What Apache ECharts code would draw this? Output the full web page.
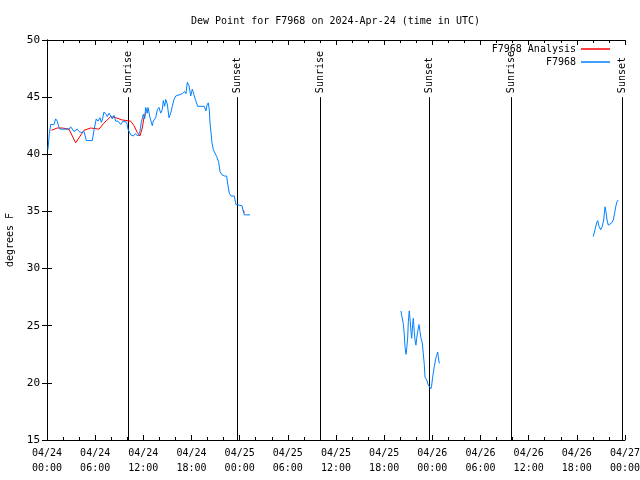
<!DOCTYPE html>
<html><head><meta charset="utf-8">
<script src="https://cdn.jsdelivr.net/npm/echarts@6/dist/echarts.min.js"></script>
<style>html,body{margin:0;padding:0;background:#fff}#c{width:640px;height:480px}</style>
</head><body><div id="c"></div>
<script>
// Observed dew point (hours since 2024-04-24 00:00 UTC); null = gap
const obsHours = [0.12,0.29,0.46,0.66,0.87,1.08,1.28,1.46,1.62,2.24,2.74,2.95,3.15,3.36,3.57,3.77,3.99,4.27,4.61,4.9,5.64,5.85,6.14,6.35,6.6,6.76,6.89,7.1,7.35,7.51,7.72,8.13,8.35,8.56,8.84,9.18,9.47,9.93,10.09,10.43,10.75,11.0,11.34,11.58,11.75,12.0,12.17,12.29,12.49,12.58,12.83,13.12,13.24,13.54,13.74,13.95,14.16,14.36,14.49,14.66,14.79,14.98,15.2,15.41,15.61,15.82,16.03,16.44,16.85,17.15,17.31,17.48,17.69,17.9,18.1,18.31,18.52,18.77,19.59,19.8,19.93,20.09,20.22,20.3,20.43,20.55,20.72,20.96,21.14,21.39,21.55,21.8,22.09,22.38,22.51,22.71,22.92,23.33,23.54,23.75,24.29,24.45,24.58,25.29,
  30,
  44.1,44.18,44.38,44.51,44.59,44.72,44.81,44.93,45.01,45.13,45.22,45.34,45.43,45.55,45.63,45.75,45.84,45.96,46.05,46.18,46.34,46.46,46.59,46.75,46.87,47.0,47.09,47.3,47.5,47.71,47.83,47.92,48.04,48.24,48.42,48.54,48.67,48.74,48.87,
  60,
  68.05,68.26,68.47,68.6,68.76,68.97,69.17,69.34,69.51,69.63,69.76,69.92,70.13,70.34,70.54,70.67,70.84,71.0,71.16];
const obsValues = [40.4,41.8,42.6,42.7,42.6,43.1,42.9,42.4,42.2,42.2,42.2,42.4,42.3,42.0,42.1,42.2,42.0,41.9,42.0,41.2,41.2,42.1,43.1,42.9,43.2,42.8,43.0,43.7,43.5,43.3,43.6,43.1,43.4,42.9,42.9,42.6,42.9,42.8,42.2,41.7,41.6,41.8,41.6,42.0,42.8,43.5,43.1,44.1,43.6,44.1,43.2,42.5,42.9,43.2,43.9,44.1,43.6,43.9,44.7,44.2,44.8,44.4,43.2,43.6,44.2,44.8,45.1,45.2,45.3,45.5,45.3,46.3,46.0,45.1,45.7,45.2,44.7,44.2,44.2,43.8,44.3,44.5,43.9,42.8,41.9,41.0,40.4,40.3,39.8,39.3,38.5,38.2,38.1,38.1,37.4,36.6,36.35,36.35,35.6,35.5,35.5,35.0,34.7,34.7,
  null,
  26.3,25.9,25.2,24.2,23.2,22.5,23.0,24.0,25.35,26.3,25.6,24.5,23.9,25.1,25.65,24.5,23.75,23.3,23.9,24.5,25.1,24.5,23.9,23.5,22.6,21.6,20.5,20.25,19.8,19.7,19.5,19.8,20.5,21.4,22.1,22.4,22.7,22.3,21.7,
  null,
  32.8,33.4,34.0,34.2,33.7,33.4,33.7,34.25,35.4,35.0,34.25,33.8,33.7,34.0,34.25,34.7,35.4,35.85,36.0];
// Analysis
const anaHours = [0.54,1.28,1.9,2.74,3.57,4.61,5.44,6.48,7.05,7.93,8.56,9.38,10.43,10.84,11.25,11.58,11.87,12.08,12.33, 18, 24.46,24.6];
const anaValues = [42.1,42.3,42.3,42.2,41.0,42.1,42.3,42.2,42.7,43.3,43.2,43.0,42.9,42.5,41.9,41.6,42.3,43.2,43.7, null, 35.1,34.9];
// Sunrise / sunset markers
const eventHours = [10.09, 23.67, 34.0, 47.6, 57.8, 71.62];
const eventNames = ['Sunrise','Sunset','Sunrise','Sunset','Sunrise','Sunset'];
const xTickLabels = ['04/24\n00:00','04/24\n06:00','04/24\n12:00','04/24\n18:00','04/25\n00:00','04/25\n06:00','04/25\n12:00','04/25\n18:00','04/26\n00:00','04/26\n06:00','04/26\n12:00','04/26\n18:00','04/27\n00:00'];
const seriesNames = ['F7968 Analysis','F7968'];

const FONT = 'DejaVu Sans Mono';
const pairs = (h, v) => h.map((x, i) => [x, v[i] === null ? '-' : v[i]]);

const chart = echarts.init(document.getElementById('c'), null, {renderer: 'canvas'});
const axisCommon = {
  axisLine: {show: true, lineStyle: {color: '#000', width: 1}},
  splitLine: {show: false}
};
const legendCommon = {right: 30, align: 'right', orient: 'vertical', icon: 'rect', padding: 0,
  itemWidth: 29, itemHeight: 1.5, itemGap: 2, textStyle: {fontFamily: FONT, fontSize: 10, color: '#000'}};
chart.setOption({
  animation: false,
  backgroundColor: '#fff',
  title: {text: 'Dew Point for F7968 on 2024-Apr-24 (time in UTC)', left: 186, top: 11,
    textStyle: {fontFamily: FONT, fontSize: 10, fontWeight: 'normal', color: '#000'}},
  legend: [
    Object.assign({data: [seriesNames[0]], top: 44}, legendCommon, {right: 30}),
    Object.assign({data: [seriesNames[1]], top: 57}, legendCommon)
  ],
  grid: {left: 47, right: 15, top: 40, bottom: 40, containLabel: false, outerBoundsMode: 'none'},
  xAxis: [
    Object.assign({}, axisCommon, {type: 'value', min: 0, max: 72, interval: 6, position: 'bottom',
      axisTick: {show: true, inside: true, length: 5, lineStyle: {color: '#000'}},
      minorTick: {show: true, splitNumber: 3, length: 3, lineStyle: {color: '#000'}},
      axisLabel: {margin: 6, fontFamily: FONT, fontSize: 10, color: '#000', lineHeight: 15,
        hideOverlap: false, showMinLabel: true, showMaxLabel: true,
        formatter: v => xTickLabels[Math.round(v / 6)]}}),
    Object.assign({}, axisCommon, {type: 'value', min: 0, max: 72, interval: 6, position: 'top',
      axisTick: {show: true, inside: true, length: 5, lineStyle: {color: '#000'}},
      minorTick: {show: true, splitNumber: 3, length: 3, lineStyle: {color: '#000'}},
      axisLabel: {show: false}})
  ],
  yAxis: [
    Object.assign({}, axisCommon, {type: 'value', min: 15, max: 50, interval: 5, position: 'left',
      name: 'degrees F', nameLocation: 'middle', nameGap: 31,
      nameTextStyle: {fontFamily: FONT, fontSize: 10, color: '#000'},
      axisTick: {show: true, inside: true, length: 5, lineStyle: {color: '#000'}},
      axisLabel: {margin: 7, fontFamily: FONT, fontSize: 11, color: '#000'}}),
    Object.assign({}, axisCommon, {type: 'value', min: 15, max: 50, interval: 5, position: 'right',
      axisTick: {show: true, inside: true, length: 5, lineStyle: {color: '#000'}},
      axisLabel: {show: false}})
  ],
  series: [
    {type: 'custom', name: 'events', silent: true, z: 1,
     data: eventHours.map(h => [h, 45]), encode: {x: 0, y: 1},
     renderItem: (params, api) => {
       const b = api.coord([api.value(0), 15]);
       const t = api.coord([api.value(0), 45]);
       const x = Math.round(t[0]) + 0.5;
       return {type: 'group', children: [
         {type: 'line', shape: {x1: x, y1: b[1], x2: x, y2: t[1]}, style: {stroke: '#000', lineWidth: 1}},
         {type: 'text', x: x, y: t[1] - 4, rotation: Math.PI / 2,
          style: {text: eventNames[params.dataIndex], align: 'left', verticalAlign: 'middle',
                  font: '10px ' + FONT, fill: '#000'}}
       ]};
     }},
    {type: 'line', name: seriesNames[0], data: pairs(anaHours, anaValues), showSymbol: false, z: 2,
     connectNulls: false, lineStyle: {color: '#ff0000', width: 1}, itemStyle: {color: '#ff0000'}},
    {type: 'line', name: seriesNames[1], data: pairs(obsHours, obsValues), showSymbol: false, z: 3,
     connectNulls: false, lineStyle: {color: '#0080ff', width: 1}, itemStyle: {color: '#0080ff'}}
  ]
});
</script></body></html>
